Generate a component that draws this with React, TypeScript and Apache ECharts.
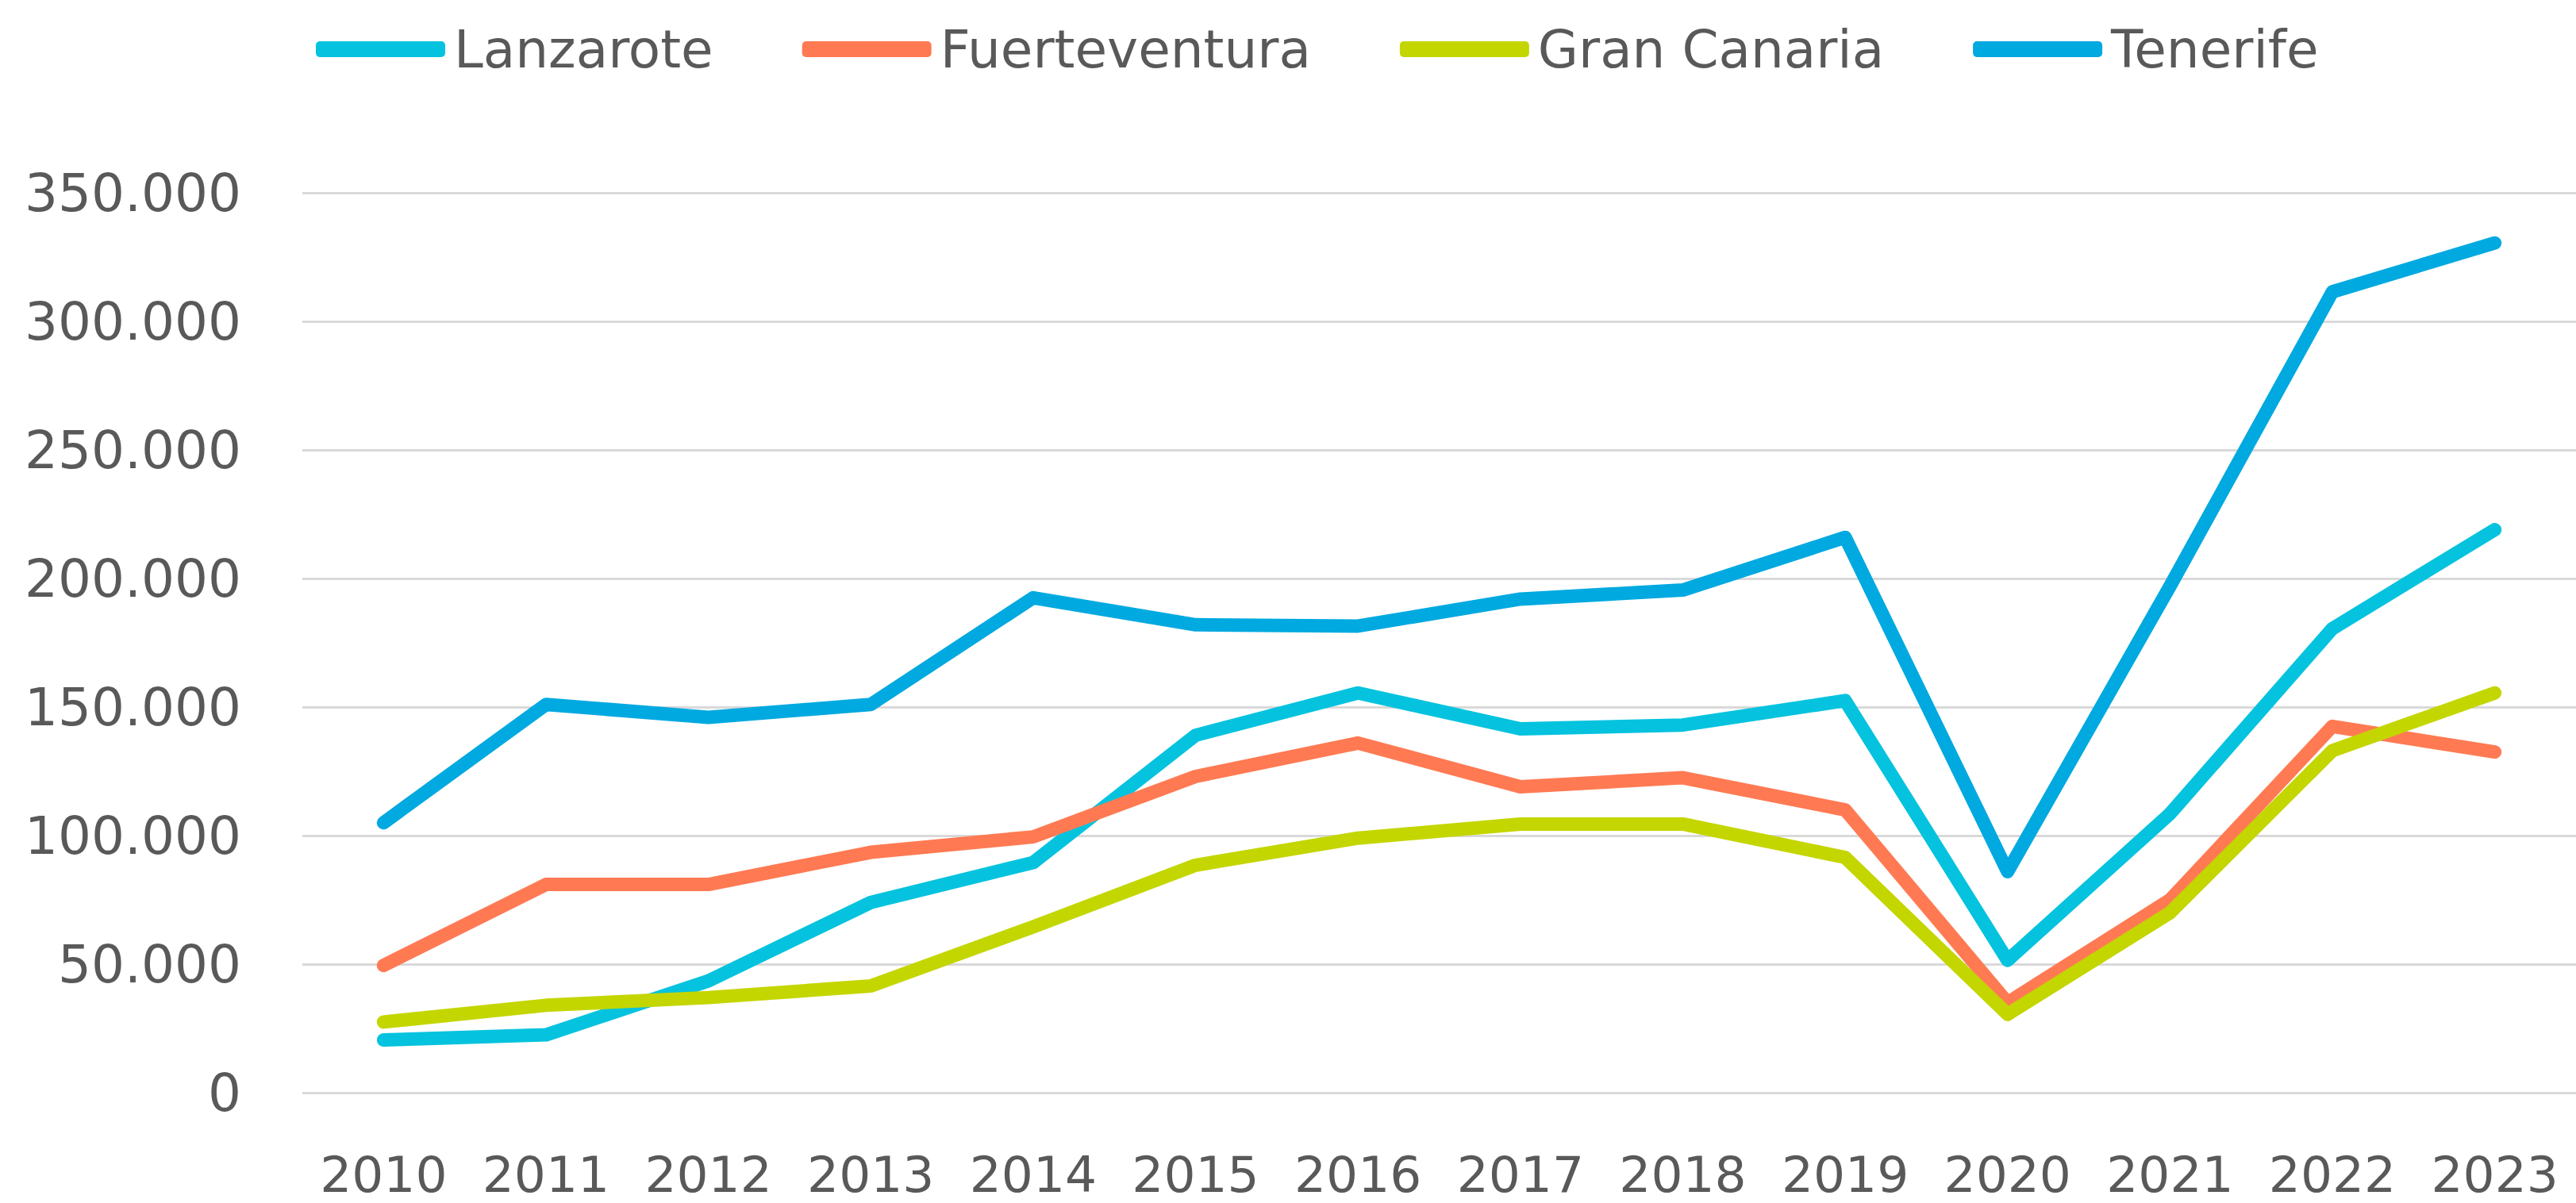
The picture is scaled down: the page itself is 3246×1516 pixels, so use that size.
import React, { useEffect, useRef } from "react";
import * as echarts from "echarts";

const years = ["2010", "2011", "2012", "2013", "2014", "2015", "2016", "2017", "2018", "2019", "2020", "2021", "2022", "2023"];
const lanzarote = [20500, 22500, 43500, 74000, 89500, 139000, 155500, 141500, 143000, 152500, 51500, 108500, 180500, 219000];
const fuerteventura = [49500, 81000, 81000, 93500, 99500, 123000, 136000, 119000, 122500, 110000, 35000, 75000, 142500, 132500];
const granCanaria = [27500, 34000, 37000, 41500, 64500, 88500, 99000, 104500, 104500, 91500, 30500, 70000, 133000, 155500];
const tenerife = [105000, 151000, 146000, 151000, 192500, 182000, 181500, 192000, 195500, 216000, 86000, 197000, 311500, 330500];

const seriesNames = ["Lanzarote", "Fuerteventura", "Gran Canaria", "Tenerife"];
const seriesColors = ["#05C3DE", "#FF7A53", "#C4D600", "#00A9E0"];

const fmt = (v: number) => String(v).replace(/\B(?=(\d{3})+(?!\d))/g, ".");

export default function App() {
  const ref = useRef<HTMLDivElement>(null);
  useEffect(() => {
    document.body.style.margin = "0";
    const chart = echarts.init(ref.current!, undefined, { renderer: "svg" });
    const datas = [lanzarote, fuerteventura, granCanaria, tenerife];
    chart.setOption({
      animation: false,
      backgroundColor: "#FFFFFF",
      legend: {
        data: seriesNames,
        left: 393,
        top: 24,
        icon: "roundRect",
        itemWidth: 163,
        itemHeight: 20,
        itemGap: 112,
        itemStyle: { borderWidth: 0 },
        textStyle: {
          fontFamily: "DejaVu Sans",
          fontSize: 66,
          color: "#595959",
          padding: [0, 0, 0, 6],
        },
      },
      grid: { left: 381, right: -6, top: 243, bottom: 139, containLabel: false },
      xAxis: {
        type: "category",
        data: years,
        boundaryGap: true,
        axisLine: { show: false },
        axisTick: { show: false },
        axisLabel: {
          interval: 0,
          fontFamily: "DejaVu Sans",
          fontSize: 63,
          color: "#595959",
          margin: 72,
        },
      },
      yAxis: {
        type: "value",
        min: 0,
        max: 350000,
        interval: 50000,
        axisLine: { show: false },
        axisTick: { show: false },
        axisLabel: {
          fontFamily: "DejaVu Sans",
          fontSize: 66,
          color: "#595959",
          margin: 77,
          formatter: (v: number) => fmt(v),
        },
        splitLine: { lineStyle: { color: "#D9D9D9", width: 3 } },
      },
      series: seriesNames.map((name, i) => ({
        name,
        type: "line",
        data: datas[i],
        symbol: "none",
        color: seriesColors[i],
        lineStyle: { width: 17, color: seriesColors[i], cap: "round", join: "round" },
      })),
    });
    return () => chart.dispose();
  }, []);
  return <div ref={ref} style={{ width: 3246, height: 1516 }} />;
}
